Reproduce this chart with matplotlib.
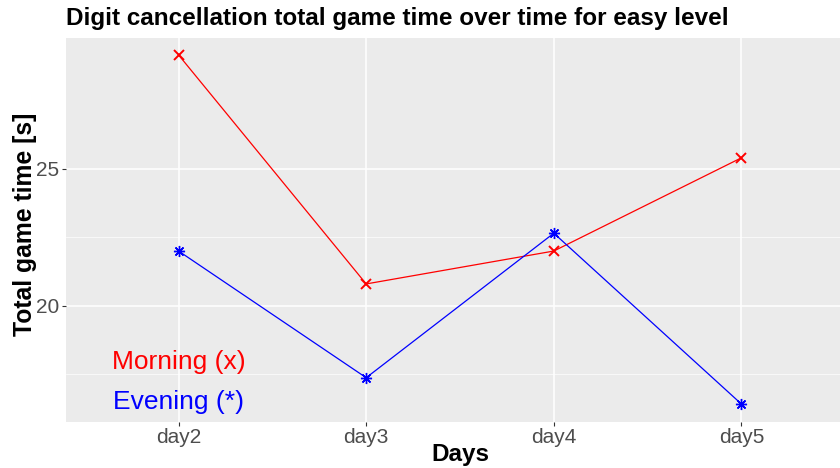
import numpy as np
import matplotlib.pyplot as plt

plt.rcParams['font.family'] = ['Liberation Sans', 'DejaVu Sans']

# --------------------------
# Data
# --------------------------
days = ['day2', 'day3', 'day4', 'day5']
morning = [29.15, 20.8, 22.0, 25.4]
evening = [22.0, 17.38, 22.65, 16.42]

W, H = 840, 468
fig = plt.figure(figsize=(W / 100, H / 100), dpi=100)

# panel spans past the right edge (cropped in the original)
left, right, top, bottom = 66, 854, 37.5, 421.5
ax = fig.add_axes([left / W, 1 - bottom / H, (right - left) / W, (bottom - top) / H])
ax.set_facecolor('#EBEBEB')

x = np.arange(len(days))
ax.plot(x, morning, color='red', lw=0.9, marker='x', ms=7, mew=1.4, zorder=3)
ax.plot(x, evening, color='blue', lw=0.9, marker=(8, 2, 0), ms=8, mew=1.0, zorder=3)

lo = min(min(morning), min(evening))
hi = max(max(morning), max(evening))
pad = (hi - lo) * 0.05
ax.set_ylim(lo - pad, hi + pad)
ax.set_xlim(-0.6, len(days) - 0.4)

ax.set_xticks(x)
ax.set_xticklabels(days)
ax.set_yticks([20, 25])
ax.set_yticks([17.5, 22.5], minor=True)
ax.grid(True, which='major', color='white', lw=1.1)
ax.grid(True, which='minor', axis='y', color='white', lw=0.5)
ax.set_axisbelow(True)
for s in ax.spines.values():
    s.set_visible(False)
ax.tick_params(which='major', colors='#333333', length=3, labelsize=15, labelcolor='#4D4D4D', pad=2)
ax.tick_params(which='minor', length=0)

# axis titles placed by hand so "Days" stays inside the picture
fig.text(460 / W, 1 - 454 / H, 'Days', fontsize=17.5,
         fontweight='bold', ha='center', va='center')
fig.text(25 / W, 1 - 224 / H, 'Total game time [s]', fontsize=17.8, fontweight='bold',
         ha='center', va='center', rotation=90)

ax.text(0, 17.95, 'Morning (x)', color='red', fontsize=19, ha='center', va='center')
ax.text(0, 16.5, 'Evening (*)', color='blue', fontsize=19, ha='center', va='center')

fig.text(left / W, 1 - 19 / H, 'Digit cancellation total game time over time for easy level',
         fontsize=17.5, fontweight='bold', ha='left', va='center')

fig.savefig('out.png', dpi=100)
